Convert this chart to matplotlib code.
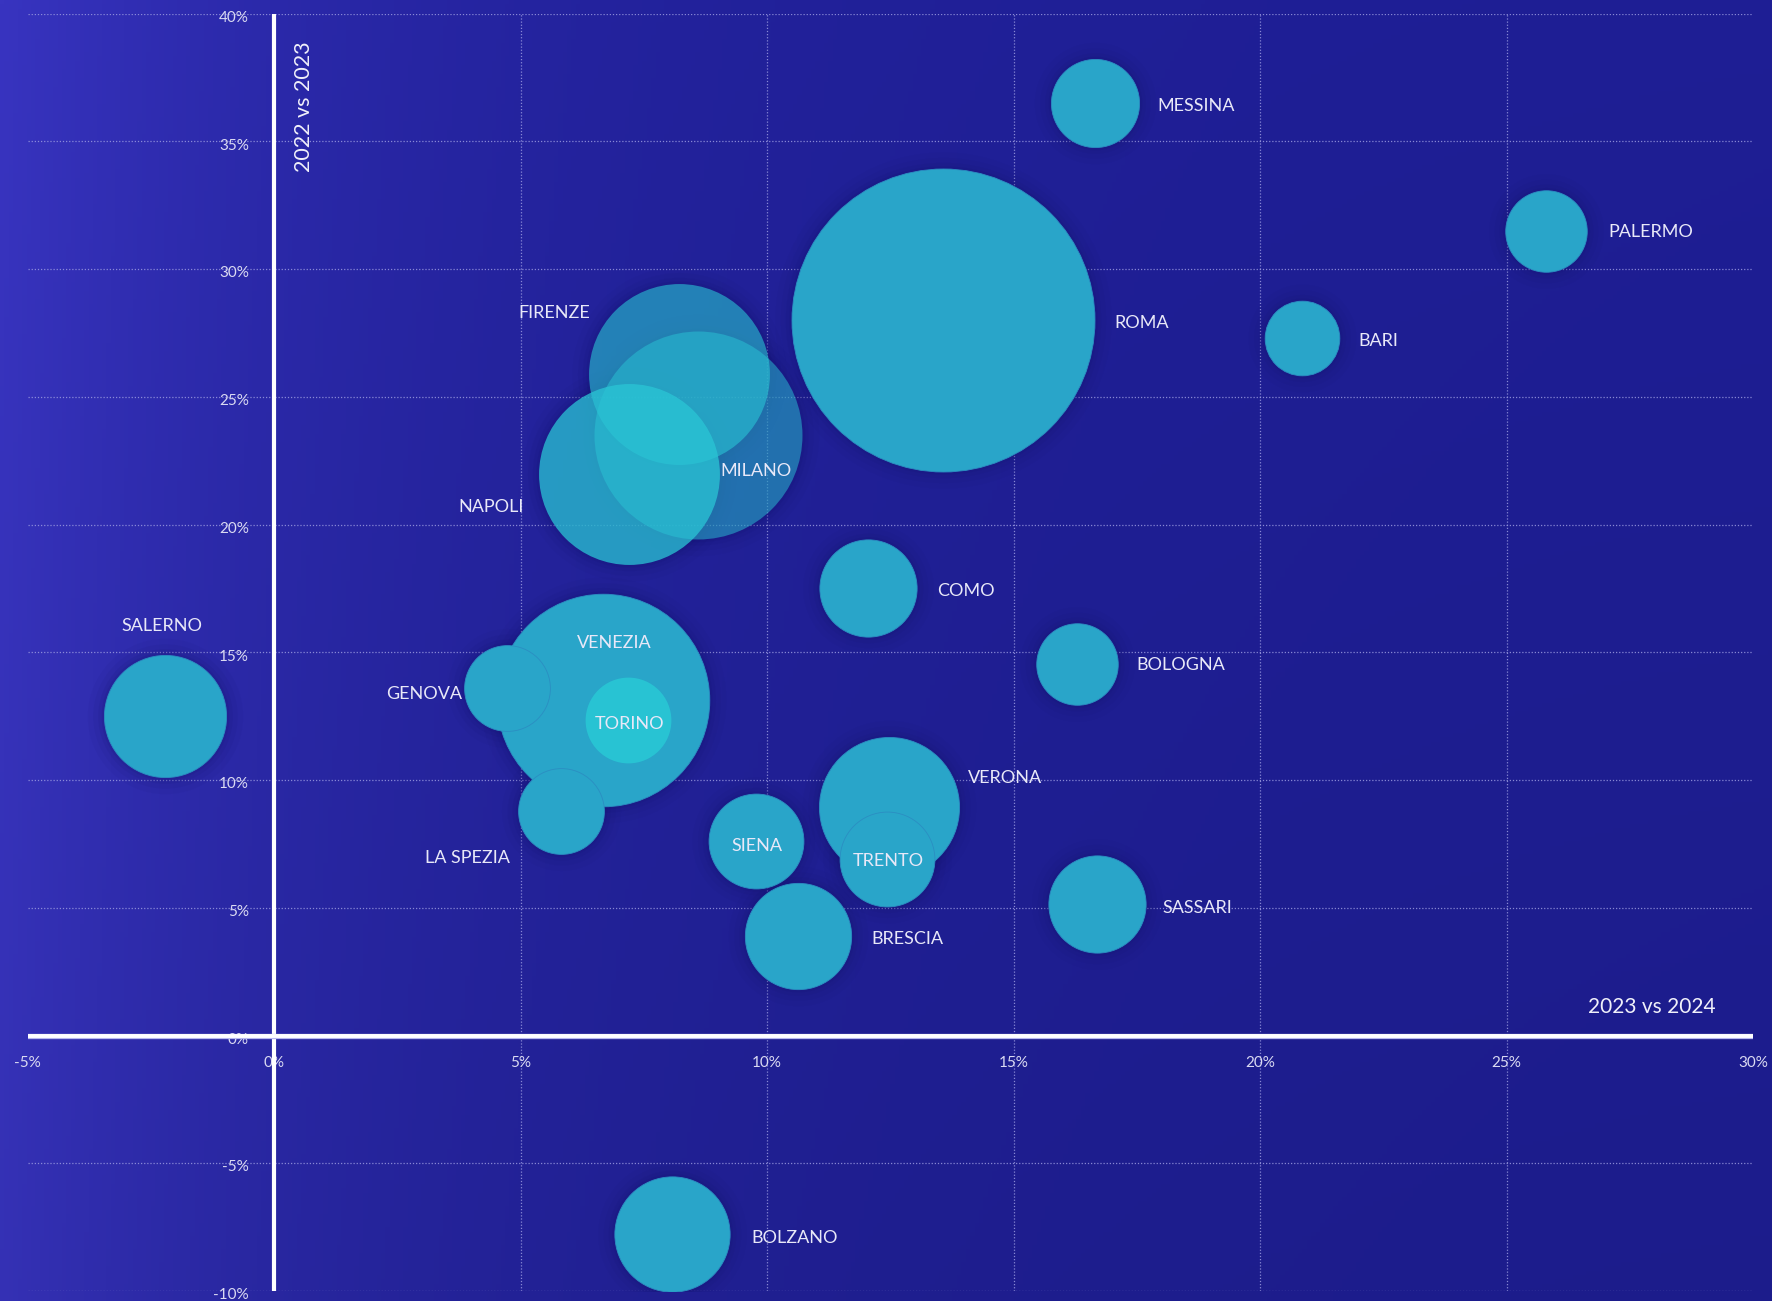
import matplotlib.pyplot as plt
import numpy as np

# dati: variazione 2023 vs 2024 (x), 2022 vs 2023 (y), volume (area bolla)
citta = ['MESSINA', 'PALERMO', 'ROMA', 'BARI', 'FIRENZE', 'MILANO', 'NAPOLI',
         'COMO', 'BOLOGNA', 'SALERNO', 'VENEZIA', 'GENOVA', 'TORINO',
         'LA SPEZIA', 'VERONA', 'SIENA', 'TRENTO', 'SASSARI', 'BRESCIA', 'BOLZANO']
var_23_24 = [16.65, 25.8, 13.58, 20.85, 8.21, 8.6, 7.2,
             12.04, 16.28, -2.22, 6.67, 4.72, 7.18,
             5.83, 12.48, 9.77, 12.43, 16.7, 10.62, 8.07]
var_22_23 = [36.5, 31.5, 28.0, 27.3, 25.9, 23.5, 22.0,
             17.5, 14.56, 12.5, 13.14, 13.59, 12.34,
             8.79, 8.93, 7.6, 6.93, 5.15, 3.9, -7.77]
volume = [152, 130, 1796, 109, 640, 846, 640,
          185, 130, 292, 884, 144, 144,
          144, 384, 176, 176, 185, 221, 260]

xtick_vals = [-5, 0, 5, 10, 15, 20, 25, 30]
ytick_vals = [-10, -5, 0, 5, 10, 15, 20, 25, 30, 35, 40]

# posizione etichette (offset in punti dal centro della bolla) e allineamento
etichette = {
    'MESSINA': (45, -2, 'left'), 'PALERMO': (45, -1, 'left'),
    'ROMA': (123, -2, 'left'), 'BARI': (41, -2, 'left'),
    'FIRENZE': (-64, 44, 'right'), 'MILANO': (16, -26, 'left'),
    'NAPOLI': (-76, -24, 'right'), 'COMO': (50, -2, 'left'),
    'BOLOGNA': (43, -1, 'left'), 'SALERNO': (-2, 65, 'center'),
    'VENEZIA': (8, 41, 'center'), 'GENOVA': (-32, -4, 'right'),
    'TORINO': (1, -3, 'center'), 'LA SPEZIA': (-37, -34, 'right'),
    'VERONA': (57, 21, 'left'), 'SIENA': (1, -3, 'center'),
    'TRENTO': (1, -2, 'center'), 'SASSARI': (47, -3, 'left'),
    'BRESCIA': (53, -2, 'left'), 'BOLZANO': (57, -3, 'left'),
}
alpha_speciale = {'FIRENZE': 0.6, 'MILANO': 0.5, 'NAPOLI': 0.75}

plt.rcParams['font.family'] = ['Lato', 'DejaVu Sans']

fig = plt.figure(figsize=(17.72, 13.01), dpi=100)

# sfondo sfumato
bg = fig.add_axes([0, 0, 1, 1], zorder=-1)
W, H = 400, 300
xx, yy = np.meshgrid(np.linspace(0, 1, W), np.linspace(0, 1, H))
sinistra = np.array([56, 52, 192]) / 255
destra = np.array([30, 30, 148]) / 255
t = np.exp(-xx / 0.22)[..., None]
img = destra + (sinistra - destra) * t
img = img * (1 - 0.06 * yy[..., None])
bg.imshow(img, aspect='auto', extent=[0, 1, 0, 1], origin='upper')
bg.axis('off')

ax = fig.add_axes([27.5 / 1772, 1 - 1291 / 1301, 1725.5 / 1772, (1291 - 13.7) / 1301])
ax.set_facecolor('none')
ax.set_xlim(-5, 30)
ax.set_ylim(-10, 40)
for s in ax.spines.values():
    s.set_visible(False)
ax.set_xticks([5, 10, 15, 20, 25])
ax.set_yticks(ytick_vals)
ax.tick_params(length=0, labelbottom=False, labelleft=False)
ax.grid(True, linestyle=(0, (1, 1.5)), color='#9A9AE0', linewidth=0.9, alpha=0.85)

# assi
ax.axvline(0, color='white', linewidth=3, zorder=6)
ax.axhline(0, color='#B8B8F0', linewidth=3.8, zorder=6)
ax.axhline(0, color='white', linewidth=2.8, zorder=6)

k = 26.5
ordine = np.argsort(volume)[::-1]

# ombre
for i in ordine:
    r = np.sqrt(volume[i] * k)
    for extra, a in [(24, 0.05), (16, 0.07), (9, 0.09), (4, 0.12)]:
        ax.scatter(var_23_24[i], var_22_23[i], s=(r + extra) ** 2, color='#12126A',
                   alpha=a, linewidths=0, zorder=2)

z = 3
for i in ordine:
    nome = citta[i]
    if nome in alpha_speciale:
        ax.scatter(var_23_24[i], var_22_23[i], s=volume[i] * k, color='#2AC6D6',
                   alpha=alpha_speciale[nome], linewidths=0, zorder=z)
    elif nome == 'TORINO':
        ax.scatter(var_23_24[i], var_22_23[i], s=volume[i] * k, color='#28C3D3',
                   linewidths=0, zorder=z)
    else:
        ax.scatter(var_23_24[i], var_22_23[i], s=volume[i] * k, color='#29A5C9',
                   edgecolors='#2B8EC2', linewidths=0.6, zorder=z)
    z += 0.01

for i, nome in enumerate(citta):
    dx, dy, ha = etichette[nome]
    ax.annotate(nome, (var_23_24[i], var_22_23[i]), xytext=(dx, dy),
                textcoords='offset points', ha=ha, va='center',
                fontsize=13, color='#E8E8F8', zorder=10)

# etichette assi
for v in xtick_vals:
    ax.annotate(f'{v}%', (v, 0), xytext=(0, -15), textcoords='offset points',
                ha='center', va='top', fontsize=11, color='#DADAF2',
                annotation_clip=False, zorder=5)
for v in ytick_vals:
    ax.annotate(f'{v}%', (0, v), xytext=(-18, 2), textcoords='offset points',
                ha='right', va='top', fontsize=11, color='#DADAF2',
                annotation_clip=False, zorder=5)

ax.annotate('2023 vs 2024', (30, 0), xytext=(-27, 16.5), textcoords='offset points',
            ha='right', va='baseline', fontsize=15, color='#F0F0FA')
ax.annotate('2022 vs 2023', (0, 40), xytext=(21.5, -20), textcoords='offset points',
            ha='center', va='top', rotation=90, fontsize=15.5, color='#F0F0FA')

fig.savefig('out.png', dpi=100)
